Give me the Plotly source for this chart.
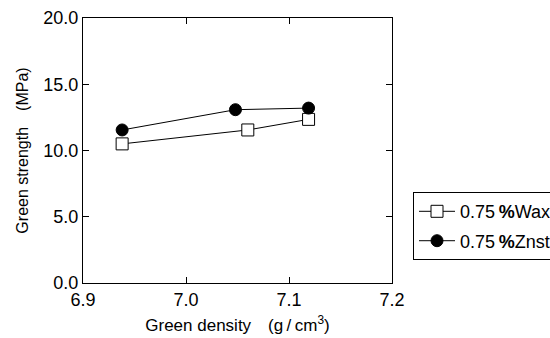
import plotly.graph_objects as go

wax_x = [6.938, 7.060, 7.119]
wax_y = [10.5, 11.55, 12.35]
zn_x = [6.938, 7.048, 7.119]
zn_y = [11.55, 13.08, 13.2]

x_ticks = [6.9, 7.0, 7.1, 7.2]
y_ticks = [0, 5, 10, 15, 20]

font = "Liberation Sans, Arial, sans-serif"

fig = go.Figure()
fig.add_trace(go.Scatter(x=wax_x, y=wax_y, mode="lines+markers",
                         name="0.75\u2009<b>%</b>Wax", legendgroup="a",
                         line=dict(color="black", width=1),
                         marker=dict(symbol="square", size=12, color="white",
                                     line=dict(color="black", width=1))))
fig.add_trace(go.Scatter(x=zn_x, y=zn_y, mode="lines+markers",
                         name="0.75\u2009<b>%</b>Znst", legendgroup="b",
                         line=dict(color="black", width=1),
                         marker=dict(symbol="circle", size=12, color="black",
                                     line=dict(color="black", width=1))))

axis_common = dict(showline=True, linecolor="black", linewidth=1, mirror="ticks",
                   ticks="inside", ticklen=6, tickcolor="black", showgrid=False,
                   zeroline=False, tickfont=dict(family=font, size=18, color="black"))

fig.update_layout(
    width=550, height=338,
    margin=dict(l=83, r=158, t=18, b=55, autoexpand=False),
    paper_bgcolor="white", plot_bgcolor="white",
    font=dict(family=font, color="black"),
    xaxis=dict(range=[6.9, 7.2], tickvals=x_ticks,
               ticktext=[f"{v:.1f}" for v in x_ticks],
               title=dict(text="Green density\u3000(g\u2009/\u2009cm<sup>3</sup>)",
                          font=dict(family=font, size=17), standoff=10),
               **axis_common),
    yaxis=dict(range=[0, 20], tickvals=y_ticks,
               ticktext=[f"{v:.1f}" for v in y_ticks],
               title=dict(text="Green strength\u3000(MPa)",
                          font=dict(family=font, size=16), standoff=10),
               **axis_common),
    legend=dict(x=1.068, y=0.343, xanchor="left", yanchor="top",
                bordercolor="black", borderwidth=1, bgcolor="white",
                font=dict(family=font, size=18, color="black"),
                tracegroupgap=3, itemwidth=36),
    showlegend=True,
)

fig.write_html("out.html")
